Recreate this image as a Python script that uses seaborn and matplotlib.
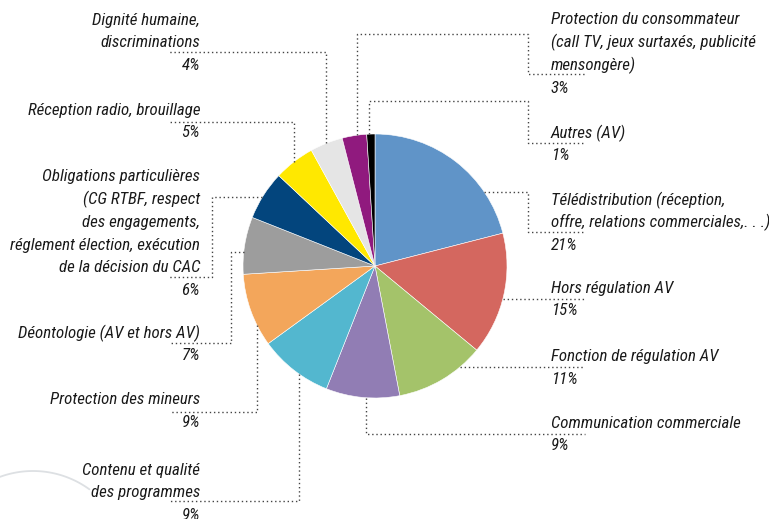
import matplotlib
matplotlib.use("Agg")
import matplotlib.pyplot as plt
from matplotlib import font_manager as fm
import seaborn as sns
import numpy as np

# slices, clockwise from 12 o'clock
categories = [
    "Télédistribution (réception,\noffre, relations commerciales,. . .)",
    "Hors régulation AV",
    "Fonction de régulation AV",
    "Communication commerciale",
    "Contenu et qualité\ndes programmes",
    "Protection des mineurs",
    "Déontologie (AV et hors AV)",
    "Obligations particulières\n(CG RTBF, respect\ndes engagements,\nréglement élection, exécution\nde la décision du CAC",
    "Réception radio, brouillage",
    "Dignité humaine,\ndiscriminations",
    "Protection du consommateur\n(call TV, jeux surtaxés, publicité\nmensongère)",
    "Autres (AV)",
]
shares = [21, 15, 11, 9, 9, 9, 7, 6, 5, 4, 3, 1]
slice_colors = ["#6094c8", "#d4675f", "#a4c36a", "#917db4", "#53b7cf", "#f3a65b",
                "#9d9d9d", "#03457d", "#ffe800", "#e5e5e5", "#901a7e", "#000000"]

W, H = 769, 519
CX, CY, R = 375, 266, 132

sns.set_theme(style="white")
installed = {f.name for f in fm.fontManager.ttflist}
narrow = [f for f in ["Roboto Condensed", "Archivo Narrow", "Asap Condensed",
                      "Liberation Sans Narrow"] if f in installed]
plt.rcParams["font.family"] = narrow[:1] + ["DejaVu Sans"]
fsize = 12.2 if narrow else 10

fig = plt.figure(figsize=(W / 100, H / 100), dpi=100)
ax = fig.add_axes([0, 0, 1, 1])

# y axis is flipped below (pixel coords), so start at 270 and go counterclockwise
# in data space -> top, clockwise on screen
ax.pie(shares, colors=sns.color_palette(slice_colors), startangle=270, counterclock=True,
       center=(CX, CY), radius=R, wedgeprops=dict(edgecolor="white", linewidth=0.4))


def edge_v(x, side):
    # point on the pie rim for a vertical leader at x
    return CY + side * np.sqrt(R ** 2 - (x - CX) ** 2)


def edge_h(y, side):
    return CX + side * np.sqrt(R ** 2 - (y - CY) ** 2)


# leader routes, first point on the rim
leaders = [
    [(edge_h(192, 1), 192), (528, 192), (528, 232), (585, 232)],
    [(edge_h(299, 1), 299), (585, 299)],
    [(edge_h(367, 1), 367), (585, 367)],
    [(366, edge_v(366, 1)), (366, 434), (585, 434)],
    [(299, edge_v(299, 1)), (299, 501), (169, 501)],
    [(257, edge_v(257, 1)), (257, 412), (169, 412)],
    [(edge_h(252, -1), 252), (231, 252), (231, 343), (169, 343)],
    [(edge_h(197, -1), 197), (212, 197), (212, 277), (169, 277)],
    [(294, edge_v(294, -1)), (294, 122), (169, 122)],
    [(326, edge_v(326, -1)), (326, 52), (169, 52)],
    [(357, edge_v(357, -1)), (357, 34), (528, 34), (528, 74), (585, 74)],
    [(369, edge_v(369, -1)), (369, 101), (528, 101), (528, 143), (585, 143)],
]
for pts in leaders:
    xs, ys = zip(*pts)
    ax.plot(xs, ys, color="#444444", lw=1.0, ls=(0, (1, 2)), zorder=1)

# label block anchors: (x, top line centre y, alignment)
label_pos = [
    (551, 200, "left"), (551, 288, "left"), (551, 357, "left"), (551, 423, "left"),
    (200, 470, "right"), (200, 400, "right"), (200, 333, "right"), (200, 177, "right"),
    (200, 110, "right"), (200, 20, "right"), (551, 20, "left"), (551, 133, "left"),
]
line_h = 22.7
for name, val, (x, y, ha) in zip(categories, shares, label_pos):
    lines = name.split("\n") + [f"{val}%"]
    for i, ln in enumerate(lines):
        ax.text(x, y + i * line_h, ln, ha=ha, va="center", fontsize=fsize,
                style="italic", color="#1a1a1a")

# faint decorative arc bottom-left
t = np.linspace(np.pi * 0.95, np.pi * 1.7, 100)
ax.plot(33 + 96 * np.cos(t), 567 + 96 * np.sin(t), color="#dde0e3", lw=1.3, zorder=0)

ax.set_aspect("auto")
ax.set_xlim(0, W)
ax.set_ylim(H, 0)
ax.axis("off")

fig.savefig("out.png", dpi=100)
